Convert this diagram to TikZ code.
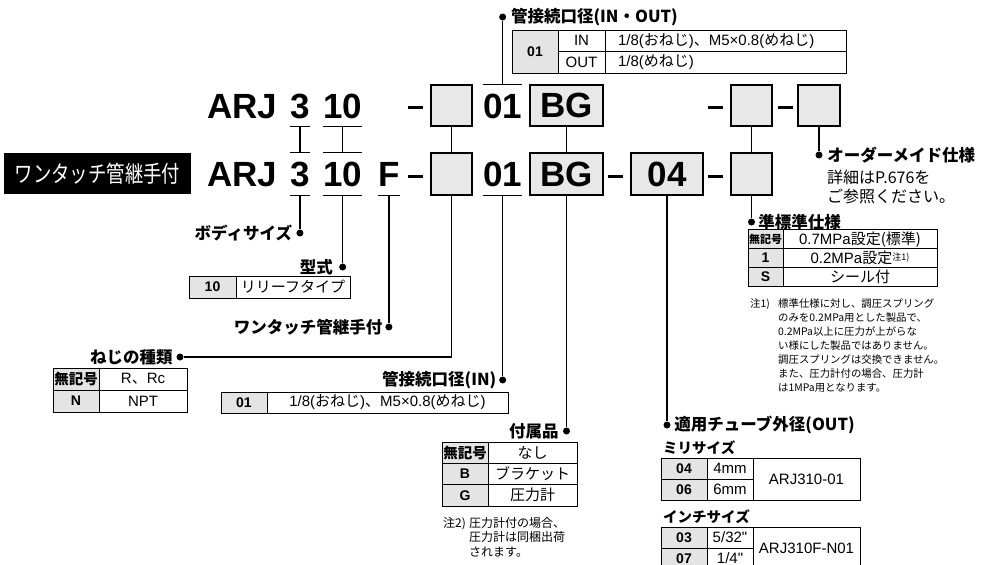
\documentclass[tikz,border=0pt]{standalone}
\usepackage{fontspec}
\setmainfont{Liberation Sans}
\newfontfamily\jpfont{Noto Sans CJK JP}
\newfontfamily\jpnarrowfont{Noto Sans CJK JP}[FakeStretch=0.8]
\newcommand{\jptext}[1]{{\jpfont #1}}
\usetikzlibrary{positioning}
\definecolor{boxgray}{HTML}{E8E8E8}
\definecolor{keygray}{HTML}{E4E4E4}

\begin{document}
\begin{tikzpicture}[x=1pt,y=-1pt]
    \tikzstyle{every node} = [inner sep=0pt]
    \tikzstyle{code} = [anchor=base west, font=\bfseries\fontsize{35}{35}\selectfont]
    \tikzstyle{codebox} = [draw, line width=1.5pt, fill=boxgray, minimum height=41pt, font=\bfseries\fontsize{35}{35}\selectfont]
    \tikzstyle{link} = [line width=1.3pt]
    \tikzstyle{codedash} = [line width=3pt]
    \tikzstyle{dot} = [circle, fill=black, minimum size=7pt]
    \tikzstyle{title} = [font=\jpfont\bfseries\fontsize{16.5}{19}\selectfont]
    \tikzstyle{subtitle} = [anchor=west, font=\jpfont\bfseries\fontsize{14.5}{17}\selectfont]
    \tikzstyle{cell} = [draw, line width=1pt, font=\fontsize{15}{17}\selectfont]
    \tikzstyle{key} = [cell, fill=keygray, font=\bfseries\fontsize{14}{16}\selectfont]
    \tikzstyle{jpkey} = [cell, fill=keygray, font=\jpfont\bfseries\fontsize{14.5}{16}\selectfont]
    \tikzstyle{note} = [anchor=north west, align=left]

    \useasboundingbox (0,0) rectangle (986,565);
    \clip (0,0) rectangle (986,565);

    % upper row
    \node[code] (a1) at (207,118.5) {ARJ};
    \node[code] (a3) at (290,118.5) {3};
    \node[code] (a10) at (323,118.5) {10};
    \node[codebox, minimum width=41pt] (aThread) at (451.5,105.5) {};
    \node[code] (aPort) at (483,118.5) {01};
    \node[codebox, minimum width=73pt] (aAcc) at (566.5,105.5) {BG};
    \node[codebox, minimum width=41pt] (aOpt) at (751.5,105.5) {};
    \node[codebox, minimum width=42pt] (aMade) at (819,105.5) {};
    \draw[codedash] (408,107) -- (423,107);
    \draw[codedash] (708,107) -- (723,107);
    \draw[codedash] (778,107) -- (793,107);

    % lower row
    \node[fill=black, text=white, minimum width=187pt, minimum height=41pt, font=\jpnarrowfont\fontsize{23}{23}\selectfont] (tag) at (97.5,173.5) {ワンタッチ管継手付};
    \node[code] (b1) at (207,186.5) {ARJ};
    \node[code] (b3) at (290,186.5) {3};
    \node[code] (b10) at (323,186.5) {10};
    \node[code] (bF) at (378,186.5) {F};
    \node[codebox, minimum width=41pt, minimum height=42pt] (bThread) at (451.5,174) {};
    \node[code] (bPort) at (483,186.5) {01};
    \node[codebox, minimum width=73pt, minimum height=42pt] (bAcc) at (566.5,174) {BG};
    \node[codebox, minimum width=72pt, minimum height=42pt] (bTube) at (667,174) {04};
    \node[codebox, minimum width=41pt, minimum height=42pt] (bOpt) at (751.5,174) {};
    \draw[codedash] (408,176.5) -- (423,176.5);
    \draw[codedash] (608,176.5) -- (623,176.5);
    \draw[codedash] (708,176.5) -- (723,176.5);

    % under- and overlines
    \foreach \n in {a3,a10}
      \draw[link] (\n.west |- aThread.south) -- (\n.east |- aThread.south);
    \foreach \n in {b3,b10}
      \draw[link] (\n.west |- bThread.north) -- (\n.east |- bThread.north);
    \foreach \n in {b3,b10,bF,bPort}
      \draw[link] (\n.west |- bThread.south) -- (\n.east |- bThread.south);
    \draw[link] (aPort.west |- aThread.north) -- (aPort.east |- aThread.north);

    % row to row
    \draw[link] (a3 |- aThread.south) -- (b3 |- bThread.north);
    \draw[link] (a10 |- aThread.south) -- (b10 |- bThread.north);
    \draw[link] (aThread.south) -- (bThread.north);
    \draw[link] (aAcc.south) -- (bAcc.north);
    \draw[link] (aOpt.south) -- (bOpt.north);

    % body size
    \node[dot] (sizeDot) at (b3 |- 0,233) {};
    \node[title, left=4pt of sizeDot] (sizeLbl) {ボディサイズ};
    \draw[link] (b3 |- bThread.south) -- (sizeDot);

    % type
    \node[dot] (typeDot) at (b10 |- 0,267) {};
    \node[title, left=6pt of typeDot] (typeLbl) {型式};
    \draw[link] (b10 |- bThread.south) -- (typeDot);
    \node[key, minimum width=47pt, minimum height=22pt] (typeKey) at (212.5,287) {10};
    \node[cell, minimum width=114pt, minimum height=22pt] (typeVal) at (293,287) {\jptext{リリーフタイプ}};

    % one-touch fitting
    \node[dot] (fitDot) at (bF |- 0,327) {};
    \node[title, left=2.5pt of fitDot] (fitLbl) {ワンタッチ管継手付};
    \draw[link] (bF |- bThread.south) -- (fitDot);

    % thread type
    \node[dot] (threadDot) at (180,357) {};
    \node[title, left=3.5pt of threadDot] (threadLbl) {ねじの種類};
    \draw[link] (bThread.south) |- (threadDot);
    \node[jpkey, minimum width=46pt, minimum height=22pt] (threadKey0) at (76,379) {無記号};
    \node[cell, minimum width=88pt, minimum height=22pt] (threadVal0) at (143,379) {R\jptext{、}Rc};
    \node[key, minimum width=46pt, minimum height=22pt] (threadKeyN) at (76,401) {N};
    \node[cell, minimum width=88pt, minimum height=22pt] (threadValN) at (143,401) {NPT};

    % port size (IN)
    \node[dot] (portInDot) at (bPort |- 0,380) {};
    \node[title, left=2.5pt of portInDot] (portInLbl) {管接続口径(IN)};
    \draw[link] (bPort |- bThread.south) -- (portInDot);
    \node[key, minimum width=46pt, minimum height=21pt] (portInKey) at (244,402.5) {01};
    \node[cell, minimum width=241pt, minimum height=21pt] (portInVal) at (387.5,402.5) {1/8(\jptext{おねじ})\jptext{、}M5×0.8(\jptext{めねじ})};

    % accessory
    \node[dot] (accDot) at (bAcc |- 0,431) {};
    \node[title, left=4pt of accDot] (accLbl) {付属品};
    \draw[link] (bAcc.south) -- (accDot);
    \node[jpkey, minimum width=46pt, minimum height=21.33pt] (accKey0) at (465,452.67) {無記号};
    \node[cell, minimum width=89pt, minimum height=21.33pt] (accVal0) at (532.5,452.67) {\jptext{なし}};
    \node[key, minimum width=46pt, minimum height=21.33pt] (accKeyB) at (465,474) {B};
    \node[cell, minimum width=89pt, minimum height=21.33pt] (accValB) at (532.5,474) {\jptext{ブラケット}};
    \node[key, minimum width=46pt, minimum height=21.33pt] (accKeyG) at (465,495.33) {G};
    \node[cell, minimum width=89pt, minimum height=21.33pt] (accValG) at (532.5,495.33) {\jptext{圧力計}};
    \node[note, font=\jpfont\fontsize{12}{14.5}\selectfont] (accNoteNo) at (443,517) {注2)};
    \node[note, font=\jpfont\fontsize{12}{14.5}\selectfont] (accNote) at (469,517) {圧力計付の場合、\\圧力計は同梱出荷\\されます。};

    % tube size (OUT)
    \node[dot] (tubeDot) at (bTube |- 0,425) {};
    \node[title, right=3.5pt of tubeDot] (tubeLbl) {適用チューブ外径(OUT)};
    \draw[link] (bTube.south) -- (tubeDot);
    \node[subtitle] (mmLbl) at (663,448) {ミリサイズ};
    \node[key, minimum width=46pt, minimum height=21pt] (mmKey04) at (684,468.5) {04};
    \node[cell, minimum width=46pt, minimum height=21pt] (mmVal04) at (730,468.5) {4mm};
    \node[key, minimum width=46pt, minimum height=21pt] (mmKey06) at (684,489.5) {06};
    \node[cell, minimum width=46pt, minimum height=21pt] (mmVal06) at (730,489.5) {6mm};
    \node[cell, minimum width=107pt, minimum height=42pt] (mmModel) at (806.5,479) {ARJ310-01};
    \node[subtitle] (inchLbl) at (663,517) {インチサイズ};
    \node[key, minimum width=46pt, minimum height=21pt] (inKey03) at (684,537.5) {03};
    \node[cell, minimum width=46pt, minimum height=21pt] (inVal03) at (730,537.5) {5/32\textquotedbl};
    \node[key, minimum width=46pt, minimum height=21pt] (inKey07) at (684,558.5) {07};
    \node[cell, minimum width=46pt, minimum height=21pt] (inVal07) at (730,558.5) {1/4\textquotedbl};
    \node[cell, minimum width=107pt, minimum height=42pt] (inModel) at (806.5,548) {ARJ310F-N01};

    % semi-standard
    \node[dot] (optDot) at (bOpt |- 0,222) {};
    \node[title, right=3pt of optDot] (optLbl) {準標準仕様};
    \draw[link] (bOpt.south) -- (optDot);
    \node[jpkey, minimum width=35pt, minimum height=18.67pt, font=\jpfont\bfseries\fontsize{11}{12}\selectfont] (optKey0) at (765.5,239.33) {無記号};
    \node[cell, minimum width=154pt, minimum height=18.67pt] (optVal0) at (860,239.33) {0.7MPa\jptext{設定(標準)}};
    \node[key, minimum width=35pt, minimum height=18.67pt] (optKey1) at (765.5,258) {1};
    \node[cell, minimum width=154pt, minimum height=18.67pt] (optVal1) at (860,258) {0.2MPa\jptext{設定{\fontsize{9}{9}\selectfont\raisebox{3pt}{注1)}}}};
    \node[key, minimum width=35pt, minimum height=18.67pt] (optKeyS) at (765.5,276.67) {S};
    \node[cell, minimum width=154pt, minimum height=18.67pt] (optValS) at (860,276.67) {\jptext{シール付}};
    \node[note, font=\jpfont\fontsize{10.4}{14}\selectfont] (optNoteNo) at (750,299) {注1)};
    \node[note, font=\jpfont\fontsize{10.4}{14}\selectfont] (optNote) at (778,299) {標準仕様に対し、調圧スプリング\\のみを0.2MPa用とした製品で、\\0.2MPa以上に圧力が上がらな\\い様にした製品ではありません。\\調圧スプリングは交換できません。\\また、圧力計付の場合、圧力計\\は1MPa用となります。};

    % made to order
    \node[dot] (madeDot) at (aMade |- 0,155) {};
    \node[title, right=4.5pt of madeDot] (madeLbl) {オーダーメイド仕様};
    \draw[link] (aMade.south) -- (madeDot);
    \node[note, font=\jpfont\fontsize{16}{19}\selectfont] (madeNote) at (827,170) {詳細はP.676を\\ご参照ください。};

    % port size (IN / OUT)
    \node[dot] (portDot) at (aPort |- 0,17) {};
    \node[title, right=4.5pt of portDot] (portLbl) {管接続口径(IN・OUT)};
    \draw[link] (aPort |- aThread.north) -- (portDot);
    \node[key, minimum width=46pt, minimum height=43pt] (portKey) at (535,51.5) {01};
    \node[cell, minimum width=47pt, minimum height=21.5pt] (portIn) at (581.5,40.75) {IN};
    \node[cell, minimum width=47pt, minimum height=21.5pt] (portOut) at (581.5,62.25) {OUT};
    \node[cell, text width=215pt, inner xsep=13pt, align=left, minimum height=21.5pt] (portInVal2) at (725.5,40.75) {1/8(\jptext{おねじ})\jptext{、}M5×0.8(\jptext{めねじ})};
    \node[cell, text width=215pt, inner xsep=13pt, align=left, minimum height=21.5pt] (portOutVal) at (725.5,62.25) {1/8(\jptext{めねじ})};

\end{tikzpicture}
\end{document}
